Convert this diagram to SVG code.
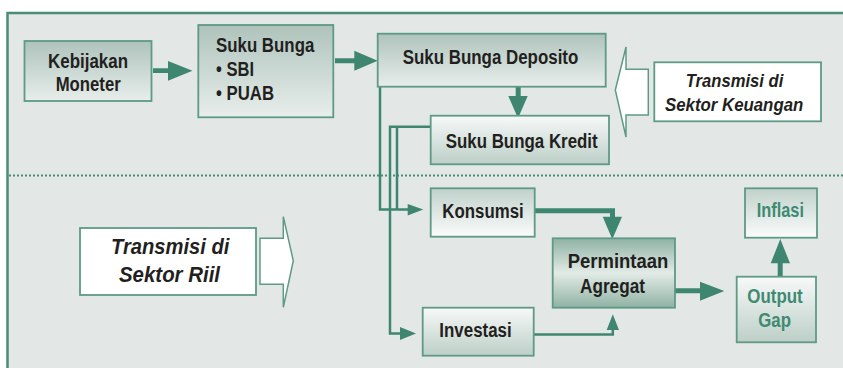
<svg xmlns="http://www.w3.org/2000/svg" width="843" height="368" viewBox="0 0 843 368">
<style>
.box{stroke:#5e9a86;stroke-width:1.8}
.t{font-family:"Liberation Sans",Arial,sans-serif;font-weight:bold;font-size:19.5px;fill:#231f20}
.g{fill:#3f8a72}
.it{font-style:italic}
.thin{fill:none;stroke:#3f8671;stroke-width:2.5}
.ar{fill:#3f8671}
.hollow{fill:#ffffff;stroke:#5e9a86;stroke-width:1.5}
</style>
<defs>
<linearGradient id="gDown" x1="0" y1="0" x2="0" y2="1"><stop offset="0" stop-color="#aec3bb"/><stop offset="1" stop-color="#e8eeeb"/></linearGradient>
<linearGradient id="gUp" x1="0" y1="0" x2="0" y2="1"><stop offset="0" stop-color="#f7f9f8"/><stop offset="1" stop-color="#bccfc7"/></linearGradient>
<linearGradient id="gTopDark" x1="0" y1="0" x2="0" y2="1"><stop offset="0" stop-color="#c0d1ca"/><stop offset="1" stop-color="#fbfcfc"/></linearGradient>
<linearGradient id="gMid" x1="0" y1="0" x2="0" y2="1"><stop offset="0" stop-color="#8fb2a4"/><stop offset="0.5" stop-color="#e3ebe7"/><stop offset="1" stop-color="#8fb2a4"/></linearGradient>
</defs>
<rect x="0" y="0" width="843" height="368" fill="#ffffff"/>
<rect x="7.5" y="13" width="860" height="380" fill="#e3e8e6" stroke="#4a8c78" stroke-width="2.5"/>
<line x1="9" y1="175.5" x2="843" y2="175.5" stroke="#4a8c78" stroke-width="2" stroke-dasharray="2 2"/>

<g id="connectors">
<polygon class="ar" points="153,68.3 168,68.3 168,61 192.5,70.7 168,80.7 168,73 153,73"/>
<polygon class="ar" points="335,58.3 354.3,58.3 354.3,50.7 377.7,60.7 354.3,70.7 354.3,63.3 335,63.3"/>
<polygon class="ar" points="515.7,86.7 520.7,86.7 520.7,96 527.7,96 518,118.3 508.3,96 515.7,96"/>
<path d="M535,210.8 H612.5 V217" fill="none" stroke="#3f8671" stroke-width="5"/>
<polygon class="ar" points="602.7,216.7 622,216.7 612.3,239.3"/>
<path d="M534,334.5 H612.8 V329" class="thin"/>
<polygon class="ar" points="606.7,330 619,330 612.8,314.3"/>
<polygon class="ar" points="675,288.3 700,288.3 700,281.7 724.3,291 700,300.7 700,293.3 675,293.3"/>
<polygon class="ar" points="777.7,276.7 777.7,263.3 770.7,263.3 780.3,239 790,263.3 782.7,263.3 782.7,276.7"/>
<path d="M380,86.7 V209.5 H410" class="thin"/>
<path d="M397,127.5 V209.5" class="thin"/>
<polygon class="ar" points="407.7,204 423.3,209.5 407.7,215.5"/>
<path d="M431,126.7 H390 V333.5 H402" class="thin"/>
<polygon class="ar" points="400,327 416,333.5 400,340"/>
</g>

<g id="arrow-keuangan">
<polygon class="hollow" points="648.3,69.3 626,69.3 626,47 615.3,90 626,137 626,115 648.3,115"/>
</g>
<g id="arrow-riil">
<polygon class="hollow" points="260,238.3 283.3,238.3 283.3,216.7 293.3,260.7 283.3,307.3 283.3,284.3 260,284.3"/>
</g>

<g id="kebijakan">
<rect class="box" x="24.5" y="41" width="127" height="60" fill="url(#gDown)"/>
<text class="t" x="48" y="67.7" textLength="80" lengthAdjust="spacingAndGlyphs">Kebijakan</text>
<text class="t" x="55.7" y="91" textLength="65" lengthAdjust="spacingAndGlyphs">Moneter</text>
</g>
<g id="suku-bunga">
<rect class="box" x="198.3" y="25" width="135" height="92.3" fill="url(#gDown)"/>
<text class="t" x="216" y="52.3" textLength="98.3" lengthAdjust="spacingAndGlyphs">Suku Bunga</text>
<text class="t" x="216" y="76" textLength="38" lengthAdjust="spacingAndGlyphs">• SBI</text>
<text class="t" x="216" y="100" textLength="58" lengthAdjust="spacingAndGlyphs">• PUAB</text>
</g>
<g id="deposito">
<rect class="box" x="377.7" y="33.7" width="228" height="53" fill="url(#gDown)"/>
<text class="t" x="402.7" y="64.4" textLength="175.6" lengthAdjust="spacingAndGlyphs">Suku Bunga Deposito</text>
</g>
<g id="kredit">
<rect class="box" x="430.7" y="115.7" width="178.3" height="48.6" fill="url(#gUp)"/>
<text class="t" x="445.7" y="148.3" textLength="152" lengthAdjust="spacingAndGlyphs">Suku Bunga Kredit</text>
</g>
<g id="transmisi-keuangan">
<rect class="box" x="654.3" y="62.3" width="166.7" height="59" fill="#ffffff"/>
<text class="t it" x="685.7" y="87.3" style="font-size:18px" textLength="97.6" lengthAdjust="spacingAndGlyphs">Transmisi di</text>
<text class="t it" x="665" y="110.7" style="font-size:18px" textLength="138.3" lengthAdjust="spacingAndGlyphs">Sektor Keuangan</text>
</g>
<g id="transmisi-riil">
<rect class="box" x="80" y="228" width="176" height="67" fill="#ffffff"/>
<text class="t it" x="111" y="254.3" style="font-size:22.5px" textLength="118.3" lengthAdjust="spacingAndGlyphs">Transmisi di</text>
<text class="t it" x="119" y="281.7" style="font-size:22.5px" textLength="101" lengthAdjust="spacingAndGlyphs">Sektor Riil</text>
</g>
<g id="konsumsi">
<rect class="box" x="430.7" y="188.3" width="104" height="48.4" fill="url(#gTopDark)"/>
<text class="t" x="442.3" y="218.3" textLength="81.4" lengthAdjust="spacingAndGlyphs">Konsumsi</text>
</g>
<g id="permintaan">
<rect class="box" x="552.7" y="238.3" width="122.3" height="69.4" fill="url(#gMid)"/>
<text class="t" x="567.7" y="268" textLength="100.6" lengthAdjust="spacingAndGlyphs">Permintaan</text>
<text class="t" x="580" y="292.7" textLength="65" lengthAdjust="spacingAndGlyphs">Agregat</text>
</g>
<g id="investasi">
<rect class="box" x="422.7" y="307.7" width="111" height="48" fill="url(#gUp)"/>
<text class="t" x="439.3" y="336.7" textLength="72.4" lengthAdjust="spacingAndGlyphs">Investasi</text>
</g>
<g id="inflasi">
<rect class="box" x="745" y="188.3" width="72" height="49.4" fill="url(#gTopDark)"/>
<text class="t g" x="756.7" y="216.7" textLength="47.3" lengthAdjust="spacingAndGlyphs">Inflasi</text>
</g>
<g id="output-gap">
<rect class="box" x="736.7" y="276.7" width="79.3" height="65.6" fill="url(#gUp)"/>
<text class="t g" x="747.3" y="303.3" textLength="55.4" lengthAdjust="spacingAndGlyphs">Output</text>
<text class="t g" x="758.3" y="326.7" textLength="32.7" lengthAdjust="spacingAndGlyphs">Gap</text>
</g>
</svg>
